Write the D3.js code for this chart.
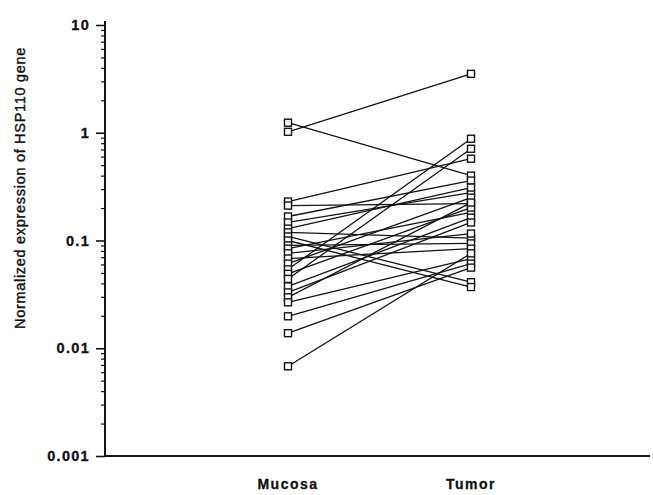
<!DOCTYPE html>
<html>
<head>
<meta charset="utf-8">
<script src="https://cdn.jsdelivr.net/npm/d3@7"></script>
<style>
  body { margin: 0; background: #fff; }
  svg { display: block; }
</style>
</head>
<body>
<svg id="chart" width="653" height="495"></svg>
<script>
const categories = ["Mucosa", "Tumor"];
// paired samples: mucosa[i] -> tumor[i]
const mucosa = [1.24, 1.02, 0.23, 0.211, 0.167, 0.147, 0.129, 0.119, 0.109, 0.1, 0.09, 0.084, 0.076,
                0.068, 0.061, 0.054, 0.049, 0.044, 0.0375, 0.033, 0.0297, 0.0267, 0.0198, 0.0138, 0.0068];
const tumor  = [0.40, 3.52, 0.574, 0.22, 0.36, 0.278, 0.31, 0.105, 0.041, 0.037, 0.094, 0.182, 0.116,
                0.084, 0.25, 0.88, 0.202, 0.71, 0.163, 0.147, 0.225, 0.068, 0.061, 0.056, 0.076];
const yTickValues = [10, 1, 0.1, 0.01, 0.001];
const yTickLabels = ["10", "1", "0.1", "0.01", "0.001"];
const yTitle = "Normalized expression of HSP110 gene";

const svg = d3.select("#chart");
const mLeft = 105, mBottom = 456, mTop = 25, mRight = 650;

const y = d3.scaleLog().domain([0.001, 10]).range([mBottom, mTop]);
const x = d3.scalePoint().domain(categories).range([288, 471]);

// minor ticks
const minor = [];
[0.001, 0.01, 0.1, 1].forEach(b => { for (let k = 2; k <= 9; k++) minor.push(b * k); });

const gMinor = svg.append("g").attr("transform", `translate(${mLeft},0)`)
  .call(d3.axisLeft(y).tickValues(minor).tickSize(4).tickFormat(""));
gMinor.select(".domain").remove();
gMinor.selectAll("line").attr("stroke", "#111").attr("stroke-width", 1.2);

const gMajor = svg.append("g").attr("transform", `translate(${mLeft},0)`)
  .call(d3.axisLeft(y).tickValues(yTickValues).tickSize(9).tickPadding(6)
        .tickFormat((d, i) => yTickLabels[i]));
gMajor.select(".domain").remove();
gMajor.selectAll("line").attr("stroke", "#111").attr("stroke-width", 1.6);
gMajor.selectAll("text")
  .attr("font-family", "Liberation Sans, Arial, sans-serif")
  .attr("font-size", 14.5).attr("font-weight", "bold")
  .attr("letter-spacing", "1.3px").attr("fill", "#111")
  .attr("stroke", "#111").attr("stroke-width", 0.3);

// axis lines
svg.append("line").attr("x1", mLeft).attr("x2", mLeft).attr("y1", mTop - 4).attr("y2", mBottom + 1)
  .attr("stroke", "#111").attr("stroke-width", 2);
svg.append("line").attr("x1", mLeft - 1).attr("x2", mRight).attr("y1", mBottom).attr("y2", mBottom)
  .attr("stroke", "#111").attr("stroke-width", 2);

// category labels
svg.append("g").selectAll("text").data(categories).join("text")
  .attr("x", d => x(d)).attr("y", 489)
  .attr("text-anchor", "middle")
  .attr("font-family", "Liberation Sans, Arial, sans-serif")
  .attr("font-size", 14).attr("font-weight", "bold")
  .attr("letter-spacing", "1.5px").attr("fill", "#111")
  .attr("stroke", "#111").attr("stroke-width", 0.3)
  .text(d => d);

// y title
svg.append("text")
  .attr("transform", `translate(25,188) rotate(-90)`)
  .attr("text-anchor", "middle")
  .attr("font-family", "Liberation Sans, Arial, sans-serif")
  .attr("font-size", 14.5).attr("fill", "#111")
  .attr("stroke", "#111").attr("stroke-width", 0.4)
  .attr("letter-spacing", "0.7px")
  .text(yTitle);

// paired lines
const pairs = mucosa.map((m, i) => ({ m, t: tumor[i] }));
svg.append("g").selectAll("line").data(pairs).join("line")
  .attr("x1", x("Mucosa")).attr("y1", d => y(d.m))
  .attr("x2", x("Tumor")).attr("y2", d => y(d.t))
  .attr("stroke", "#151515").attr("stroke-width", 1.3);

// markers
const pts = [];
pairs.forEach(p => { pts.push({ c: "Mucosa", v: p.m }); pts.push({ c: "Tumor", v: p.t }); });
svg.append("g").selectAll("rect").data(pts).join("rect")
  .attr("x", d => x(d.c) - 3.5).attr("y", d => y(d.v) - 3.5)
  .attr("width", 7).attr("height", 7)
  .attr("fill", "#fff").attr("stroke", "#151515").attr("stroke-width", 1.4);
</script>
</body>
</html>
